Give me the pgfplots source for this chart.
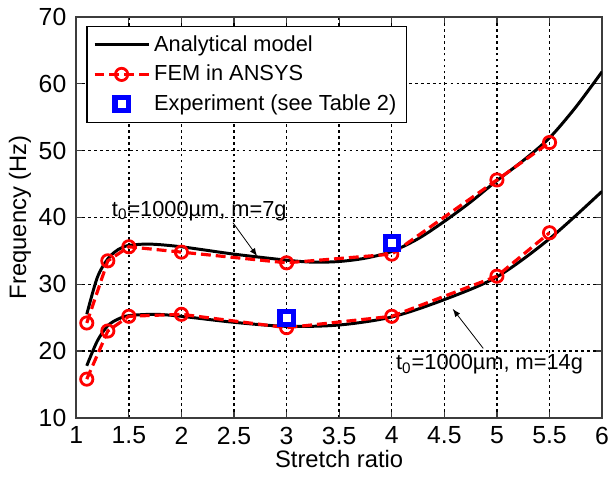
\documentclass[border=0pt]{standalone}
\usepackage{fontspec}
\setmainfont{Liberation Sans}
\usepackage{pgfplots}
\pgfplotsset{compat=1.18}

\definecolor{axgray}{RGB}{60,60,60}

\begin{document}
\begin{tikzpicture}[font=\fontsize{11}{13}\selectfont]
\begin{axis}[
    name=ax,
    scale only axis,
    width=265.5pt, height=202.5pt,
    xmin=1, xmax=6, ymin=10, ymax=70,
    xtick={1,1.5,...,6},
    ytick={10,20,...,70},
    xticklabels={1,1.5,2,2.5,3,3.5,4,4.5,5,5.5,6},
    /pgf/number format/assume math mode=true,
    tick align=inside,
    major tick length=3pt,
    axis line style={axgray, line width=0.8pt},
    tick style={axgray, line width=0.6pt},
    grid=major,
    major grid style={black, line width=0.7pt, dash pattern=on 1.4pt off 1.6pt},
    xlabel={Stretch ratio},
    ylabel={Frequency (Hz)},
    xlabel style={yshift=4pt, font=\fontsize{12}{14}\selectfont},
    ylabel style={yshift=-3pt, font=\fontsize{12}{14}\selectfont},
    xticklabel style={yshift=-1pt},
    yticklabel style={xshift=-1.5pt},
    tick label style={font=\fontsize{12.5}{14}\selectfont},
    legend style={at={(0.019,0.978)}, anchor=north west, draw=black,
        line width=0.8pt, font=\fontsize{11}{13}\selectfont,
        row sep=1.5pt, inner xsep=3pt, inner ysep=2.5pt, cells={anchor=west}},
    legend image code/.code={\draw[mark repeat=2, mark phase=2, #1]
        plot coordinates {(0cm,0cm) (0.48cm,0cm) (0.96cm,0cm)};},
    legend cell align=left,
]
% analytical model, upper (m = 7 g)
\addplot[black, line width=1.5pt, smooth] coordinates {
    (1.1,25.5) (1.2,31.0) (1.3,33.8) (1.4,35.2) (1.5,35.8) (1.7,36.0)
    (2.0,35.6) (2.5,34.5) (3.0,33.6) (3.25,33.3) (3.5,33.4) (3.75,33.9)
    (4.0,34.9) (4.25,36.8) (4.5,39.4) (4.75,42.3) (5.0,45.5) (5.25,48.5)
    (5.5,51.9) (5.75,56.5) (6.0,61.8)
};
\addlegendentry{Analytical model}
% FEM, upper
\addplot[red, line width=1.6pt, dash pattern=on 5pt off 2.5pt,
    mark=o, mark size=3.1pt, mark options={solid, line width=1.4pt}] coordinates {
    (1.1,24.2) (1.3,33.5) (1.5,35.6) (2,34.8) (3,33.2) (4,34.5) (5,45.6) (5.5,51.2)
};
\addlegendentry{FEM in ANSYS}
% experiment
\addplot[only marks, mark=square*, mark size=3.3pt,
    mark options={draw=blue, fill=white, line width=2.6pt}] coordinates {
    (3,25.0) (4,36.2)
};
\addlegendentry{Experiment (see Table 2)}
% analytical model, lower (m = 14 g)
\addplot[black, line width=1.5pt, smooth, forget plot] coordinates {
    (1.1,17.8) (1.2,21.5) (1.3,23.8) (1.4,24.8) (1.5,25.3) (1.75,25.5)
    (2.0,25.2) (2.5,24.3) (3.0,23.7) (3.5,23.9) (4.0,25.1) (4.5,27.7)
    (5.0,31.1) (5.5,36.8) (6.0,43.9)
};
% FEM, lower
\addplot[red, line width=1.6pt, dash pattern=on 5pt off 2.5pt, forget plot,
    mark=o, mark size=3.1pt, mark options={solid, line width=1.4pt}] coordinates {
    (1.1,15.8) (1.3,23.0) (1.5,25.2) (2,25.5) (3,23.5) (4,25.2) (5,31.2) (5.5,37.7)
};
% re-draw experiment marks on top
\addplot[only marks, forget plot, mark=square*, mark size=3.3pt,
    mark options={draw=blue, fill=white, line width=2.6pt}] coordinates {
    (3,25.0) (4,36.2)
};
\node at (axis cs:2.17,41) {t\textsubscript{0}=1000µm, m=7g};
\draw[-latex, line width=0.4pt] (axis cs:2.49,39.2) -- (axis cs:2.72,34.2);
\node at (axis cs:4.93,18) {t\textsubscript{0}=1000µm, m=14g};
\draw[-latex, line width=0.4pt] (axis cs:4.87,20.4) -- (axis cs:4.58,26.3);
\end{axis}
% fixed page margins, just wide enough on the right for the last tick label
\pgfresetboundingbox
\path[use as bounding box] ([shift={(-38.5pt,-30pt)}]ax.south west)
    rectangle ([shift={(4.5pt,8.5pt)}]ax.north east);
\end{tikzpicture}
\end{document}
